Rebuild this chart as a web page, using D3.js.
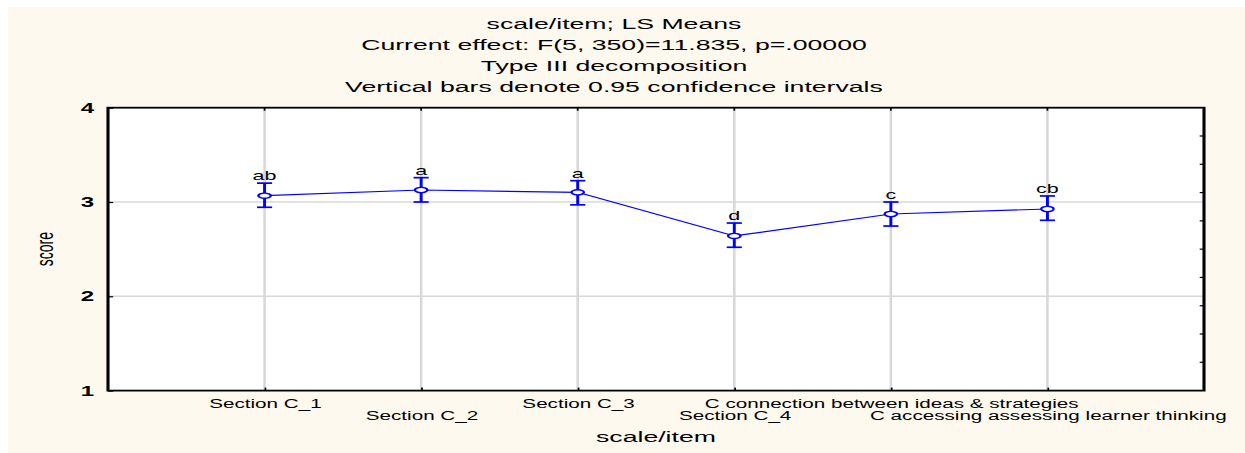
<!DOCTYPE html>
<html>
<head>
<meta charset="utf-8">
<script src="https://cdn.jsdelivr.net/npm/d3@7"></script>
<style>
  html, body { margin: 0; padding: 0; background: #ffffff; }
  svg { display: block; }
  text { font-family: "Liberation Sans", Arial, sans-serif; fill: #000; }
</style>
</head>
<body>
<div id="chart"></div>
<script>
// Data
const categories = [
    'Section C_1',
    'Section C_2',
    'Section C_3',
    'Section C_4',
    'C connection between ideas & strategies',
    'C accessing assessing learner thinking'
];
const means = [3.067, 3.127, 3.103, 2.640, 2.873, 2.926];
const ciLow = [2.944, 3.000, 2.970, 2.520, 2.745, 2.806];
const ciHigh = [3.200, 3.258, 3.226, 2.777, 3.000, 3.064];
const groupLetters = ['ab', 'a', 'a', 'd', 'c', 'cb'];
const yTicks = [1, 2, 3, 4];
const titleLines = [
    'scale/item; LS Means',
    'Current effect: F(5, 350)=11.835, p=.00000',
    'Type III decomposition',
    'Vertical bars denote 0.95 confidence intervals'
];

// The original picture is stretched sideways, so draw in a narrower
// inner space and let the viewBox stretch it out.
const outerW = 1245, outerH = 453;
const sx = 1.72;
const innerW = outerW / sx;

const plot = {left: 108 / sx, right: 1204 / sx, top: 107.7, bottom: 390.6};

const svg = d3.select('#chart')
    .append('svg')
    .attr('width', outerW)
    .attr('height', outerH)
    .attr('viewBox', `0 0 ${innerW} ${outerH}`)
    .attr('preserveAspectRatio', 'none');

// Cream background
svg.append('rect')
    .attr('x', 8 / sx)
    .attr('y', 7)
    .attr('width', innerW - 8 / sx)
    .attr('height', outerH - 7)
    .attr('fill', '#fef9ee');

// Plot area
svg.append('rect')
    .attr('x', plot.left)
    .attr('y', plot.top)
    .attr('width', plot.right - plot.left)
    .attr('height', plot.bottom - plot.top)
    .attr('fill', '#ffffff');

// Scales
const x = d3.scalePoint()
    .domain(categories)
    .range([plot.left, plot.right])
    .padding(1);

const y = d3.scaleLinear()
    .domain([1, 4])
    .range([plot.bottom, plot.top]);

// Gridlines
svg.append('g')
    .selectAll('line')
    .data(categories)
    .join('line')
    .attr('x1', d => x(d))
    .attr('x2', d => x(d))
    .attr('y1', plot.top)
    .attr('y2', plot.bottom)
    .attr('stroke', '#d8d8d8')
    .attr('stroke-width', 1.5);

svg.append('g')
    .selectAll('line')
    .data([2, 3])
    .join('line')
    .attr('x1', plot.left)
    .attr('x2', plot.right)
    .attr('y1', d => y(d))
    .attr('y2', d => y(d))
    .attr('stroke', '#d8d8d8')
    .attr('stroke-width', 1.5);

// Left axis (inward ticks)
const yAxis = svg.append('g')
    .attr('transform', `translate(${plot.left},0)`)
    .call(d3.axisLeft(y).tickValues(yTicks).tickSizeInner(-3).tickSizeOuter(0).tickPadding(8).tickFormat(d3.format('d')));
yAxis.select('.domain').remove();
yAxis.selectAll('line').attr('stroke', '#000').attr('stroke-width', 1.2);
yAxis.selectAll('text')
    .attr('font-size', 14)
    .attr('font-weight', 'bold')
    .attr('font-family', '"Liberation Sans", Arial, sans-serif');

// Right axis: minor ticks dividing into 10 parts
const minorTicks = d3.range(1, 10).map(k => 1 + k * 0.3);
svg.append('g')
    .selectAll('line')
    .data(minorTicks)
    .join('line')
    .attr('x1', plot.right - 2.5)
    .attr('x2', plot.right)
    .attr('y1', d => y(d))
    .attr('y2', d => y(d))
    .attr('stroke', '#000')
    .attr('stroke-width', 1.2);

// Top axis ticks
svg.append('g')
    .selectAll('line')
    .data(categories)
    .join('line')
    .attr('x1', d => x(d))
    .attr('x2', d => x(d))
    .attr('y1', plot.top)
    .attr('y2', plot.top + 3)
    .attr('stroke', '#000')
    .attr('stroke-width', 1);

// Bottom axis with alternating label rows
const xAxis = svg.append('g')
    .attr('transform', `translate(0,${plot.bottom})`)
    .call(d3.axisBottom(x).tickSizeInner(-3).tickSizeOuter(0));
xAxis.select('.domain').remove();
xAxis.selectAll('line').attr('stroke', '#000').attr('stroke-width', 1);
xAxis.selectAll('text')
    .attr('font-size', 12)
    .attr('font-family', '"Liberation Sans", Arial, sans-serif')
    .attr('dy', 0)
    .attr('y', (d, i) => i % 2 === 0 ? 17.4 : 29.4);

// Frame
svg.append('rect')
    .attr('x', plot.left)
    .attr('y', plot.top)
    .attr('width', plot.right - plot.left)
    .attr('height', plot.bottom - plot.top)
    .attr('fill', 'none')
    .attr('stroke', '#000')
    .attr('stroke-width', 1.8);

// Titles
svg.append('g')
    .selectAll('text')
    .data(titleLines)
    .join('text')
    .attr('x', 614 / sx)
    .attr('y', (d, i) => 29 + i * 21)
    .attr('text-anchor', 'middle')
    .attr('font-size', 15.5)
    .text(d => d);

// Axis titles
svg.append('text')
    .attr('x', (plot.left + plot.right) / 2)
    .attr('y', 442)
    .attr('text-anchor', 'middle')
    .attr('font-size', 15.5)
    .text('scale/item');

svg.append('text')
    .attr('transform', `translate(${53 / sx},${(plot.top + plot.bottom) / 2}) rotate(-90)`)
    .attr('text-anchor', 'middle')
    .attr('font-size', 14)
    .text('score');

// Series
const points = categories.map((c, i) => ({
    cat: c, mean: means[i], lo: ciLow[i], hi: ciHigh[i], letter: groupLetters[i]
}));

const line = d3.line()
    .x(d => x(d.cat))
    .y(d => y(d.mean));

svg.append('path')
    .datum(points)
    .attr('d', line)
    .attr('fill', 'none')
    .attr('stroke', '#0000ff')
    .attr('stroke-width', 1.2);

const err = svg.append('g')
    .attr('stroke', '#0000ff')
    .attr('stroke-width', 1.7);

err.selectAll('line.bar')
    .data(points)
    .join('line')
    .attr('class', 'bar')
    .attr('x1', d => x(d.cat))
    .attr('x2', d => x(d.cat))
    .attr('y1', d => y(d.lo))
    .attr('y2', d => y(d.hi));

err.selectAll('line.capHi')
    .data(points)
    .join('line')
    .attr('class', 'capHi')
    .attr('x1', d => x(d.cat) - 4.4)
    .attr('x2', d => x(d.cat) + 4.4)
    .attr('y1', d => y(d.hi))
    .attr('y2', d => y(d.hi));

err.selectAll('line.capLo')
    .data(points)
    .join('line')
    .attr('class', 'capLo')
    .attr('x1', d => x(d.cat) - 4.4)
    .attr('x2', d => x(d.cat) + 4.4)
    .attr('y1', d => y(d.lo))
    .attr('y2', d => y(d.lo));

svg.append('g')
    .selectAll('ellipse')
    .data(points)
    .join('ellipse')
    .attr('cx', d => x(d.cat))
    .attr('cy', d => y(d.mean))
    .attr('rx', 3.6)
    .attr('ry', 2.6)
    .attr('fill', '#ffffff')
    .attr('stroke', '#0000ff')
    .attr('stroke-width', 1.4);

// Group letters above the intervals
svg.append('g')
    .selectAll('text')
    .data(points)
    .join('text')
    .attr('x', d => x(d.cat))
    .attr('y', d => y(d.hi) - 3)
    .attr('text-anchor', 'middle')
    .attr('font-size', 12.5)
    .text(d => d.letter);
</script>
</body>
</html>
